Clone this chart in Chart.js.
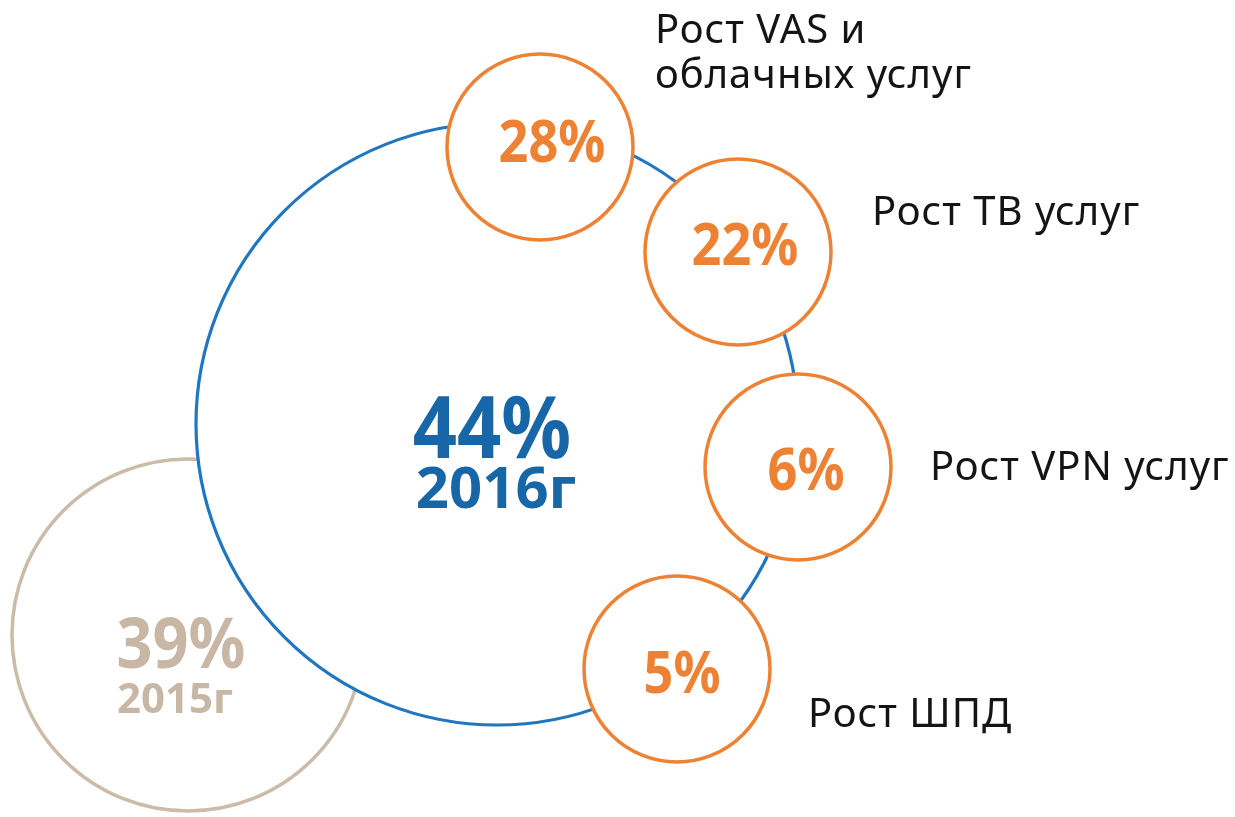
<!DOCTYPE html>
<html>
<head>
<meta charset="utf-8">
<script src="https://cdn.jsdelivr.net/npm/chart.js@4.4.0/dist/chart.umd.min.js"></script>
<style>
  html, body { margin: 0; padding: 0; background: #ffffff; }
  #wrap { width: 1235px; height: 817px; position: relative; }
</style>
</head>
<body>
<div id="wrap"><canvas id="c" width="1235" height="817"></canvas></div>
<script>
// ---- data ----
const growthLabels = [
  ["Рост VAS и", "облачных услуг"],
  ["Рост ТВ услуг"],
  ["Рост VPN услуг"],
  ["Рост ШПД"]
];
const growthValues = [28, 22, 6, 5];
const totalYears = ["2016г", "2015г"];
const totalValues = [44, 39];

// ---- layout (pixel space of the hidden scales) ----
const growthX = [540, 738, 798, 677];
const growthY = [147, 252, 467, 669];
const growthR = 93;
const totalX = [497, 188];
const totalY = [424, 635];
const totalR = [301, 176];

const ORANGE = '#ee8234';
const BLUE = '#2176c0';
const BLUE_TEXT = '#1766a8';
const BEIGE = '#cbbba8';
const BEIGE_TEXT = '#c8b7a4';

const growthPoints = growthValues.map((v, i) => ({ x: growthX[i], y: growthY[i], r: growthR, v }));

const textPlugin = {
  id: 'texts',
  afterDatasetsDraw(chart) {
    const ctx = chart.ctx;
    const xs = chart.scales.x, ys = chart.scales.y;
    ctx.save();
    ctx.textAlign = 'center';
    ctx.textBaseline = 'alphabetic';

    function scaledText(txt, x, y, font, color, sx) {
      ctx.save();
      ctx.font = font;
      ctx.fillStyle = color;
      ctx.translate(x, y);
      ctx.scale(sx, 1);
      ctx.fillText(txt, 0, 0);
      ctx.restore();
    }

    // totals
    const tc = [BLUE_TEXT, BEIGE_TEXT];
    const numSize = [86, 70];
    const yrSize = [58, 42];
    const numOff = [[-5, 34], [-7, 33]];
    const yrOff = [[-1, 84], [-13, 78]];
    totalValues.forEach((v, i) => {
      const px = xs.getPixelForValue(totalX[i]);
      const py = ys.getPixelForValue(totalY[i]);
      scaledText(v + '%', px + numOff[i][0], py + numOff[i][1], 'bold ' + numSize[i] + 'px "Noto Sans"', tc[i], 0.9);
      scaledText(totalYears[i], px + yrOff[i][0], py + yrOff[i][1], 'bold ' + yrSize[i] + 'px "Noto Sans"', tc[i], 1.0);
    });

    // growth numbers
    const gOff = [[12, 15], [7, 13], [8, 23], [5, 24]];
    growthValues.forEach((v, i) => {
      const px = xs.getPixelForValue(growthX[i]);
      const py = ys.getPixelForValue(growthY[i]);
      scaledText(v + '%', px + gOff[i][0], py + gOff[i][1], 'bold 60px "Noto Sans"', ORANGE, 0.87);
    });

    // labels
    ctx.textAlign = 'left';
    ctx.fillStyle = '#141414';
    ctx.font = '40px "Noto Sans"';
    try { ctx.letterSpacing = '1px'; } catch (e) {}
    const lOff = [[115, -104], [134, -27], [132, 13], [131, 58]];
    growthLabels.forEach((lines, i) => {
      const px = xs.getPixelForValue(growthX[i]);
      const py = ys.getPixelForValue(growthY[i]);
      lines.forEach((ln, j) => {
        ctx.fillText(ln, px + lOff[i][0], py + lOff[i][1] + j * 45);
      });
    });
    ctx.restore();
  }
};

new Chart(document.getElementById('c'), {
  type: 'bubble',
  data: {
    datasets: [
      {
        label: 'growth',
        data: growthPoints,
        backgroundColor: '#ffffff',
        borderColor: ORANGE,
        borderWidth: 3.5,
        clip: false,
        order: 0
      },
      {
        label: '2016',
        data: [{ x: totalX[0], y: totalY[0], r: totalR[0] }],
        backgroundColor: '#ffffff',
        borderColor: BLUE,
        borderWidth: 3.2,
        clip: false,
        order: 1
      },
      {
        label: '2015',
        data: [{ x: totalX[1], y: totalY[1], r: totalR[1] }],
        backgroundColor: '#ffffff',
        borderColor: BEIGE,
        borderWidth: 3.5,
        clip: false,
        order: 2
      }
    ]
  },
  options: {
    responsive: false,
    animation: false,
    events: [],
    layout: { padding: 0, autoPadding: false },
    plugins: { legend: { display: false }, tooltip: { enabled: false } },
    scales: {
      x: { type: 'linear', min: 0, max: 1235, display: false },
      y: { type: 'linear', min: 0, max: 817, reverse: true, display: false }
    }
  },
  plugins: [textPlugin]
});
</script>
</body>
</html>
